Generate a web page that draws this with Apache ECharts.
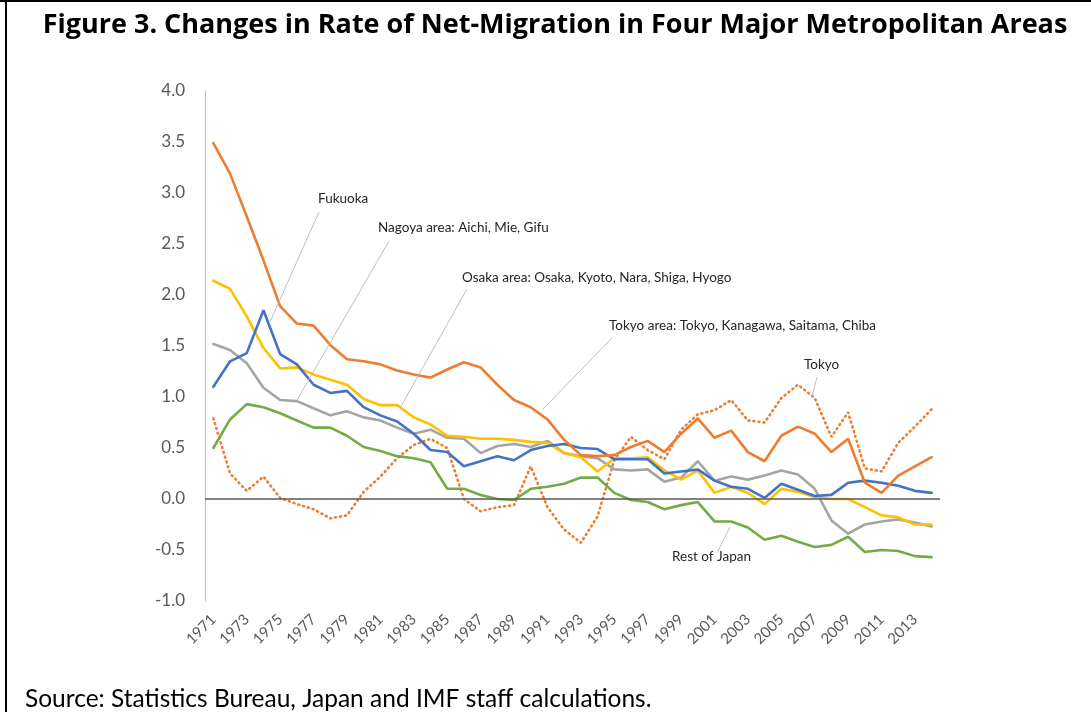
<!DOCTYPE html>
<html><head><meta charset="utf-8">
<script src="https://cdn.jsdelivr.net/npm/echarts@6/dist/echarts.min.js"></script>
<style>html,body{margin:0;padding:0;background:#fff}#c{width:1091px;height:712px}</style>
</head><body><div id="c"></div>
<script>
const years = ['1971','1972','1973','1974','1975','1976','1977','1978','1979','1980',
  '1981','1982','1983','1984','1985','1986','1987','1988','1989','1990',
  '1991','1992','1993','1994','1995','1996','1997','1998','1999','2000',
  '2001','2002','2003','2004','2005','2006','2007','2008','2009','2010',
  '2011','2012','2013','2014'];
const yTicks = [-1.0,-0.5,0.0,0.5,1.0,1.5,2.0,2.5,3.0,3.5,4.0];

const tokyoArea = [3.49,3.19,2.77,2.34,1.89,1.72,1.70,1.51,1.37,1.35,
  1.32,1.26,1.22,1.19,1.27,1.34,1.29,1.12,0.97,0.90,
  0.78,0.58,0.43,0.42,0.43,0.51,0.57,0.46,0.64,0.79,
  0.60,0.67,0.46,0.37,0.62,0.71,0.64,0.46,0.59,0.16,
  0.06,0.23,0.32,0.41];
const tokyo = [0.79,0.25,0.08,0.22,0.01,-0.05,-0.10,-0.19,-0.16,0.07,
  0.22,0.40,0.53,0.59,0.50,0.00,-0.12,-0.08,-0.06,0.32,
  -0.08,-0.30,-0.43,-0.17,0.38,0.61,0.48,0.39,0.68,0.83,
  0.87,0.97,0.77,0.75,0.99,1.12,0.99,0.61,0.85,0.30,
  0.27,0.55,0.71,0.88];
const nagoya = [2.14,2.06,1.79,1.48,1.28,1.29,1.22,1.17,1.12,0.98,
  0.92,0.92,0.80,0.73,0.62,0.61,0.59,0.59,0.58,0.56,
  0.55,0.45,0.41,0.27,0.40,0.40,0.41,0.28,0.19,0.28,
  0.06,0.12,0.06,-0.05,0.10,0.07,0.02,0.00,0.00,-0.08,
  -0.16,-0.18,-0.25,-0.25];
const osaka = [1.52,1.46,1.33,1.09,0.97,0.96,0.89,0.82,0.86,0.80,
  0.77,0.70,0.64,0.68,0.60,0.59,0.45,0.52,0.54,0.51,
  0.57,0.45,0.42,0.40,0.29,0.28,0.29,0.17,0.21,0.37,
  0.18,0.22,0.19,0.23,0.28,0.24,0.10,-0.21,-0.34,-0.25,
  -0.22,-0.20,-0.23,-0.27];
const fukuoka = [1.10,1.35,1.43,1.85,1.42,1.32,1.12,1.04,1.06,0.90,
  0.82,0.76,0.64,0.48,0.46,0.32,0.37,0.42,0.38,0.48,
  0.52,0.54,0.50,0.49,0.39,0.39,0.39,0.25,0.27,0.29,
  0.18,0.12,0.10,0.01,0.15,0.09,0.03,0.04,0.16,0.18,
  0.16,0.13,0.08,0.06];
const restOfJapan = [0.50,0.78,0.93,0.90,0.84,0.77,0.70,0.70,0.62,0.51,
  0.47,0.42,0.40,0.36,0.10,0.10,0.04,0.00,-0.01,0.10,
  0.12,0.15,0.21,0.21,0.06,-0.01,-0.03,-0.10,-0.06,-0.03,
  -0.22,-0.22,-0.28,-0.40,-0.36,-0.42,-0.47,-0.45,-0.37,-0.52,
  -0.50,-0.51,-0.56,-0.57];

const FONT = 'Lato, "Open Sans", sans-serif';
function line(name, data, color, dash) {
  return {name, type:'line', data, symbol:'none', smooth:false,
    lineStyle:{color, width:2.6, type: dash || 'solid', cap:'round'},
    itemStyle:{color}, emphasis:{disabled:true}, silent:true};
}
const s = [
  line('Tokyo', tokyo, '#ED7D31', [1,4]),
  line('Rest of Japan', restOfJapan, '#70AD47'),
  line('Osaka area', osaka, '#A5A5A5'),
  line('Nagoya area', nagoya, '#FFC000'),
  line('Fukuoka', fukuoka, '#4472C4'),
  line('Tokyo area', tokyoArea, '#ED7D31')
];
s[0].markLine = {silent:true, symbol:'none', label:{show:false}, animation:false,
  lineStyle:{color:'#595959', width:1.5, type:'solid'}, data:[{yAxis:0}]};
s[0].z = 1;

const annotations = [
  {text:'Fukuoka', tx:318, ty:200, l:[319,212,270,322]},
  {text:'Nagoya area: Aichi, Mie, Gifu', tx:378, ty:229, l:[389,241,297,400]},
  {text:'Osaka area: Osaka, Kyoto, Nara, Shiga, Hyogo', tx:462, ty:279, l:[467,289,400,408]},
  {text:'Tokyo area: Tokyo, Kanagawa, Saitama, Chiba', tx:609, ty:327, l:[612,338,543,409]},
  {text:'Tokyo', tx:804, ty:366, l:[817,377,812,397]},
  {text:'Rest of Japan', tx:672, ty:558, l:[730,527,717,553]}
];
const graphics = [
  {type:'line', shape:{x1:0,y1:1,x2:1091,y2:1}, style:{stroke:'#000', lineWidth:2}, z:100},
  {type:'line', shape:{x1:6,y1:0,x2:6,y2:712}, style:{stroke:'#000', lineWidth:2}, z:100}
];
annotations.forEach(a => {
  graphics.push({type:'line', shape:{x1:a.l[0],y1:a.l[1],x2:a.l[2],y2:a.l[3]},
    style:{stroke:'#bfbfbf', lineWidth:1}, z:50});
  graphics.push({type:'text', left:a.tx, top:a.ty-8,
    style:{text:a.text, font:'13.5px ' + FONT, fill:'#262626'}, z:60});
});

const chart = echarts.init(document.getElementById('c'), null, {renderer:'canvas'});
chart.setOption({
  animation:false,
  backgroundColor:'#fff',
  title:[
    {text:'Figure 3. Changes in Rate of Net-Migration in Four Major Metropolitan Areas',
     left:550, textAlign:'center', top:7,
     textStyle:{fontFamily:'"Open Sans", sans-serif', fontWeight:'bold', fontSize:27, color:'#000'}},
    {text:'Source: Statistics Bureau, Japan and IMF staff calculations.',
     left:20, top:682,
     textStyle:{fontFamily:FONT, fontWeight:'normal', fontSize:24.5, color:'#000'}}
  ],
  grid:{left:205, right:151, top:91, bottom:111, containLabel:false},
  xAxis:{type:'category', data:years, boundaryGap:true,
    axisLine:{show:false, onZero:false}, axisTick:{show:false},
    axisLabel:{interval:1, rotate:45, fontFamily:FONT, fontSize:15, color:'#595959', margin:16},
    splitLine:{show:false}},
  yAxis:{type:'value', min:yTicks[0], max:yTicks[yTicks.length-1], interval:0.5,
    axisLine:{show:true, lineStyle:{color:'#bfbfbf', width:1}},
    axisTick:{show:false}, splitLine:{show:false},
    axisLabel:{formatter:v => v.toFixed(1), fontFamily:FONT, fontSize:17, color:'#595959', margin:20}},
  series:s,
  graphic:graphics
});
</script></body></html>
